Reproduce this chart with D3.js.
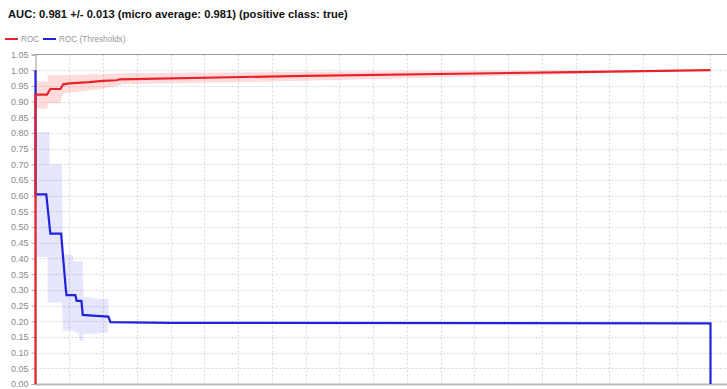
<!DOCTYPE html>
<html>
<head>
<meta charset="utf-8">
<script src="https://cdn.jsdelivr.net/npm/d3@7"></script>
<style>
  body { margin: 0; background: #fff; }
  svg { display: block; font-family: "Liberation Sans", Arial, sans-serif; }
</style>
</head>
<body>
<svg id="chart" width="727" height="389"></svg>
<script>
'use strict';

// chart title and legend
var titleText = 'AUC: 0.981 +/- 0.013 (micro average: 0.981) (positive class: true)';
var seriesNames = ['ROC', 'ROC (Thresholds)'];
var seriesColors = ['#e8222a', '#2222dd'];

// y axis tick values
var yTicks = d3.range(0, 21 + 1).map(function(i) { return i * 0.05; });
var xGrid = d3.range(1, 21).map(function(i) { return i * 0.05; });

// ROC curve (x = false positive rate, y = true positive rate)
var rocX = [0, 0, 0.017, 0.022, 0.037, 0.041, 0.05, 0.08, 0.1, 0.12, 0.125, 0.4, 0.8, 1.0];
var rocY = [0, 0.922, 0.922, 0.94, 0.94, 0.955, 0.958, 0.962, 0.966, 0.968, 0.971, 0.982, 0.994, 1.0];

// ROC +/- std band
var rocBandX = [0, 0.018, 0.018, 0.037, 0.04, 0.1, 0.13, 0.4, 0.7, 1.0];
var rocBandLo = [0.878, 0.878, 0.895, 0.895, 0.926, 0.94, 0.955, 0.966, 0.982, 1.0];
var rocBandHi = [0.965, 0.965, 0.984, 0.984, 0.984, 0.988, 0.99, 0.995, 0.998, 1.0];

// threshold curve
var thrX = [0, 0, 0.016, 0.022, 0.038, 0.041, 0.045, 0.046, 0.059, 0.061, 0.068, 0.07, 0.09, 0.108, 0.111, 0.2, 1.0, 1.0];
var thrY = [1.0, 0.604, 0.604, 0.479, 0.479, 0.40, 0.30, 0.283, 0.283, 0.265, 0.265, 0.22, 0.217, 0.215, 0.197, 0.195, 0.193, 0];

// threshold +/- std band
var thrBandX = [0, 0.018, 0.018, 0.021, 0.021, 0.039, 0.041, 0.055, 0.056, 0.064, 0.065, 0.07, 0.071, 0.09, 0.108];
var thrBandLo = [0.405, 0.405, 0.26, 0.26, 0.26, 0.26, 0.17, 0.17, 0.17, 0.16, 0.137, 0.137, 0.16, 0.16, 0.165];
var thrBandHi = [0.803, 0.803, 0.803, 0.803, 0.70, 0.70, 0.415, 0.41, 0.39, 0.39, 0.39, 0.39, 0.278, 0.272, 0.27];


/*
 * layout
 */

var svg = d3.select('#chart');
var x = d3.scaleLinear().domain([0, 1.05]).range([35.5, 744.25]);
var y = d3.scaleLinear().domain([0, 1.05]).range([384, 54.5]);

function zip(xs, ys) {
  return xs.map(function(v, i) { return [v, ys[i]]; });
}

function zipBand(xs, lo, hi) {
  return xs.map(function(v, i) { return { x: v, lo: lo[i], hi: hi[i] }; });
}

// title
svg.append('text')
  .attr('x', 8)
  .attr('y', 18)
  .attr('font-size', '11.2px')
  .attr('font-weight', 'bold')
  .attr('fill', '#111')
  .text(titleText);

// legend
var legendX = [5, 43];
seriesNames.forEach(function(name, i) {
  svg.append('line')
    .attr('x1', legendX[i]).attr('x2', legendX[i] + 13)
    .attr('y1', 39).attr('y2', 39)
    .attr('stroke', seriesColors[i])
    .attr('stroke-width', 2);
  svg.append('text')
    .attr('x', legendX[i] + 16)
    .attr('y', 42)
    .attr('font-size', '8.2px')
    .attr('fill', '#999')
    .text(name);
});

// grid lines
var grid = svg.append('g').attr('stroke', '#d6d6d6').attr('stroke-dasharray', '2,2');
grid.selectAll('line.h').data(yTicks.slice(1, -1)).enter().append('line')
  .attr('x1', x(0)).attr('x2', 727)
  .attr('y1', function(d) { return Math.round(y(d)) + 0.5; })
  .attr('y2', function(d) { return Math.round(y(d)) + 0.5; });
grid.selectAll('line.v').data(xGrid).enter().append('line')
  .attr('y1', y(1.05)).attr('y2', y(0))
  .attr('x1', function(d) { return Math.round(x(d)) + 0.5; })
  .attr('x2', function(d) { return Math.round(x(d)) + 0.5; });

// plot frame
svg.append('line')
  .attr('x1', x(0)).attr('x2', 727)
  .attr('y1', y(1.05)).attr('y2', y(1.05))
  .attr('stroke', '#999');
svg.append('line')
  .attr('x1', x(0)).attr('x2', 727)
  .attr('y1', y(0) + 0.5).attr('y2', y(0) + 0.5)
  .attr('stroke', '#bbb').attr('stroke-width', 2);

// y axis
var yAxis = d3.axisLeft(y)
  .tickValues(yTicks)
  .tickFormat(d3.format('.2f'))
  .tickSize(4)
  .tickPadding(3);
var yAxisG = svg.append('g')
  .attr('transform', 'translate(' + x(0) + ',0)')
  .call(yAxis);
yAxisG.select('.domain').attr('stroke', '#999');
yAxisG.selectAll('.tick line').attr('stroke', '#aaa');
yAxisG.selectAll('.tick text')
  .attr('fill', '#888')
  .attr('font-size', '9px')
  .attr('font-family', '"Liberation Sans", Arial, sans-serif');

// std bands
var band = d3.area()
  .x(function(d) { return x(d.x); })
  .y0(function(d) { return y(d.lo); })
  .y1(function(d) { return y(d.hi); });

svg.append('path')
  .datum(zipBand(rocBandX, rocBandLo, rocBandHi))
  .attr('d', band)
  .attr('fill', 'rgba(255, 60, 60, 0.18)');

svg.append('path')
  .datum(zipBand(thrBandX, thrBandLo, thrBandHi))
  .attr('d', band)
  .attr('fill', 'rgba(90, 90, 255, 0.15)');

// curves
var line = d3.line()
  .x(function(d) { return x(d[0]); })
  .y(function(d) { return y(d[1]); });

svg.append('path')
  .datum(zip(thrX, thrY))
  .attr('d', line)
  .attr('fill', 'none')
  .attr('stroke', seriesColors[1])
  .attr('stroke-width', 2.2);

svg.append('path')
  .datum(zip(rocX, rocY))
  .attr('d', line)
  .attr('fill', 'none')
  .attr('stroke', seriesColors[0])
  .attr('stroke-width', 2.2);
</script>
</body>
</html>
